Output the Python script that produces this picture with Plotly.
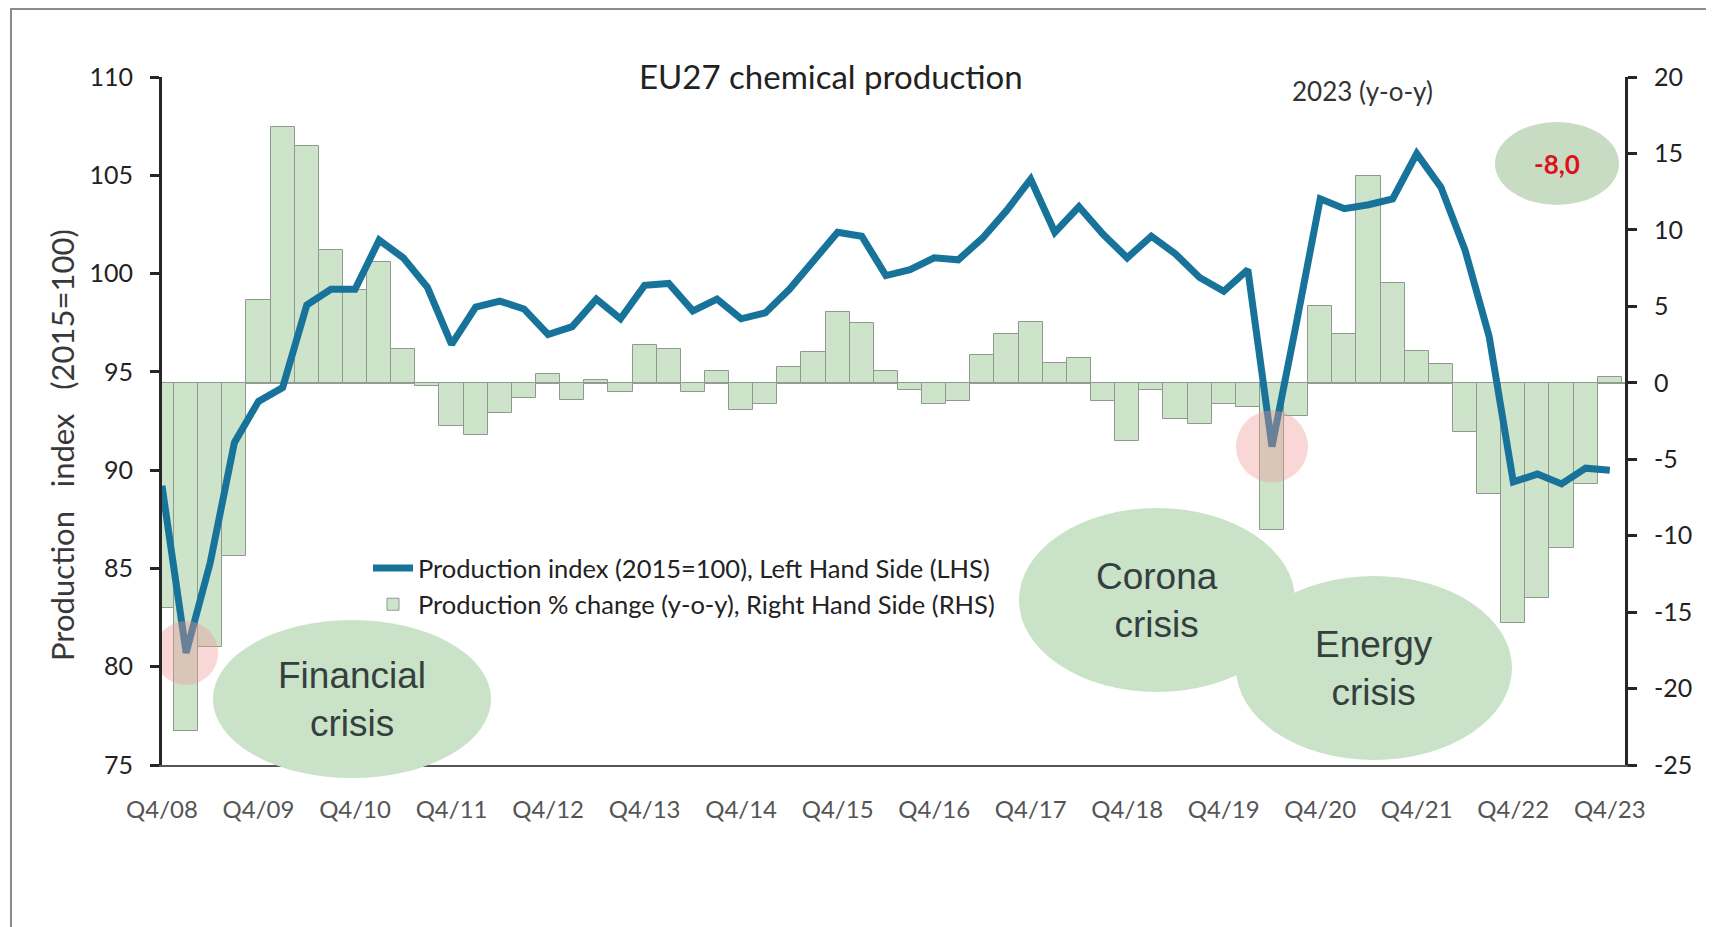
import plotly.graph_objects as go

# quarterly categories, Q4/08 ... Q4/23
years = list(range(2008, 2024))
quarters = ['Q4/08'] + [f'Q{q}/{str(y)[2:]}' for y in years[1:] for q in (1, 2, 3, 4)]
tick_labels = ['Q4/08', 'Q4/09', 'Q4/10', 'Q4/11', 'Q4/12', 'Q4/13', 'Q4/14', 'Q4/15',
               'Q4/16', 'Q4/17', 'Q4/18', 'Q4/19', 'Q4/20', 'Q4/21', 'Q4/22', 'Q4/23']

# production index (2015=100), left hand side
production_index = [89.2, 80.7, 85.3, 91.4, 93.5, 94.2, 98.4, 99.2, 99.2, 101.7,
                    100.8, 99.3, 96.4, 98.3, 98.6, 98.2, 96.9, 97.3, 98.7, 97.7,
                    99.4, 99.5, 98.1, 98.7, 97.7, 98.0, 99.2, 100.7, 102.1, 101.9,
                    99.9, 100.2, 100.8, 100.7, 101.8, 103.2, 104.8, 102.1, 103.4, 102.0,
                    100.8, 101.9, 101.0, 99.8, 99.1, 100.2, 91.2, 97.4, 103.8, 103.3,
                    103.5, 103.8, 106.1, 104.4, 101.2, 96.8, 89.4, 89.8, 89.3, 90.1,
                    90.0]

# production % change (y-o-y), right hand side
pct_change = [-14.7, -22.8, -17.3, -11.3, 5.4, 16.7, 15.5, 8.7, 6.1, 7.9,
              2.2, -0.2, -2.8, -3.4, -2.0, -1.0, 0.6, -1.1, 0.2, -0.6,
              2.5, 2.2, -0.6, 0.8, -1.8, -1.4, 1.0, 2.0, 4.6, 3.9,
              0.8, -0.5, -1.4, -1.2, 1.8, 3.2, 4.0, 1.3, 1.6, -1.2,
              -3.8, -0.5, -2.4, -2.7, -1.4, -1.6, -9.6, -2.2, 5.0, 3.2,
              13.5, 6.5, 2.1, 1.2, -3.2, -7.3, -15.7, -14.1, -10.8, -6.6,
              0.4]

# quarters highlighted with a red circle (financial crisis low, corona low)
highlight_idx = [1, 46]

left_ticks = [75, 80, 85, 90, 95, 100, 105, 110]
right_ticks = [-25, -20, -15, -10, -5, 0, 5, 10, 15, 20]

yoy_2023 = '-8,0'

# page is 1714 x 927, the figure sits 8px in (body margin)
OFF = 8
W, H = 1714 - OFF, 927 - OFF
# plot area in page pixels
PL, PR, PT, PB = 162, 1625, 77, 765


def px(x):
    return (x - PL) / (PR - PL)


def py(y):
    return (PB - y) / (PB - PT)


BLUE = '#18739b'
BAR_FILL = '#cde3ca'
BAR_LINE = '#8f9a8f'
ELLIPSE = '#c9e2c8'
AXIS = '#262626'

bars = go.Bar(x=quarters, y=pct_change, yaxis='y', width=1,
              name='Production % change (y-o-y), Right Hand Side (RHS)',
              marker=dict(color=BAR_FILL, line=dict(color=BAR_LINE, width=1)),
              legendrank=2)

line = go.Scatter(x=quarters, y=production_index, yaxis='y2', mode='lines',
                  name='Production index (2015=100), Left Hand Side (LHS)',
                  line=dict(color=BLUE, width=7), legendrank=1)

circles = go.Scatter(x=[quarters[i] for i in highlight_idx],
                     y=[production_index[i] for i in highlight_idx],
                     yaxis='y2', mode='markers', showlegend=False, hoverinfo='skip',
                     marker=dict(size=[64, 72], color='rgba(240,150,150,0.55)', line=dict(width=0)))

fig = go.Figure(data=[bars, line, circles])

axis_font = dict(family='Lato', size=25, color='#222')

fig.update_layout(
    width=W, height=H,
    margin=dict(l=PL - OFF, r=W - (PR - OFF), t=PT - OFF, b=H - (PB - OFF), pad=0),
    paper_bgcolor='white', plot_bgcolor='white',
    bargap=0,
    xaxis=dict(type='category', range=[0, 60.63], showgrid=False, zeroline=False,
               showline=True, linecolor='#555', linewidth=2, ticks='',
               tickvals=tick_labels, ticktext=tick_labels, tickangle=0,
               tickfont=dict(family='Lato', size=24, color='#555'),
               ticklabelstandoff=22),
    yaxis=dict(range=[-25, 20], side='right', tickvals=right_ticks,
               ticktext=[str(v) for v in right_ticks],
               showgrid=False, zeroline=True, zerolinecolor='#9a9a9a', zerolinewidth=1.5,
               showline=True, linecolor=AXIS, linewidth=3,
               ticks='outside', ticklen=9, tickwidth=3, tickcolor=AXIS,
               tickfont=axis_font, ticklabelstandoff=12),
    yaxis2=dict(range=[75, 110], side='left', overlaying='y', tickvals=left_ticks,
                ticktext=[str(v) for v in left_ticks],
                showgrid=False, zeroline=False,
                showline=True, linecolor=AXIS, linewidth=3,
                ticks='outside', ticklen=9, tickwidth=3, tickcolor=AXIS,
                tickfont=axis_font, ticklabelstandoff=12),
    legend=dict(x=px(368), y=py(545), xanchor='left', yanchor='top',
                bgcolor='rgba(0,0,0,0)', font=dict(family='Lato', size=25.5, color='#222'),
                itemwidth=40, tracegroupgap=0),
    showlegend=True,
)

# outer frame
fig.add_shape(type='rect', xref='paper', yref='paper', layer='above',
              x0=px(11), x1=px(W + 40), y0=py(H + 40), y1=py(9),
              line=dict(color='#8c8c8c', width=2), fillcolor='rgba(0,0,0,0)')

# crisis bubbles (center x, center y, rx, ry) in page pixels
bubbles = [(352, 699, 139, 79, 'Financial<br>crisis'),
           (1157, 600, 138, 92, 'Corona<br>crisis'),
           (1374, 668, 138, 92, 'Energy<br>crisis')]
for cx, cy, rx, ry, label in bubbles:
    fig.add_shape(type='circle', xref='paper', yref='paper', layer='above',
                  x0=px(cx - rx), x1=px(cx + rx), y0=py(cy + ry), y1=py(cy - ry),
                  fillcolor=ELLIPSE, line=dict(width=0))
for cx, cy, rx, ry, label in bubbles:
    fig.add_annotation(x=px(cx), y=py(cy), xref='paper', yref='paper', text=label,
                       showarrow=False, xanchor='center', yanchor='middle',
                       font=dict(family='Liberation Sans', size=37, color='#353f3d'))

# 2023 y-o-y bubble
fig.add_shape(type='circle', xref='paper', yref='paper', layer='above',
              x0=px(1495), x1=px(1619), y0=py(205), y1=py(122),
              fillcolor='#c8dcc4', line=dict(width=0))
fig.add_annotation(x=px(1557), y=py(164), xref='paper', yref='paper', text=f'<b>{yoy_2023}</b>',
                   showarrow=False, xanchor='center', yanchor='middle',
                   font=dict(family='Lato', size=26, color='#e0101a'))
fig.add_annotation(x=px(1362), y=py(91), xref='paper', yref='paper', text='2023 (y-o-y)',
                   showarrow=False, xanchor='center', yanchor='middle',
                   font=dict(family='Lato', size=26, color='#333'))

# title
fig.add_annotation(x=px(831), y=py(76), xref='paper', yref='paper',
                   text='EU27 chemical production', showarrow=False,
                   xanchor='center', yanchor='middle',
                   font=dict(family='Lato', size=33, color='#222'))

# left axis title (non-breaking spaces keep the wide word gaps)
gap = '\u00a0' * 3
fig.add_annotation(x=px(62), y=py(445), xref='paper', yref='paper',
                   text=f'Production{gap}index{gap}(2015=100)', textangle=-90, showarrow=False,
                   xanchor='center', yanchor='middle',
                   font=dict(family='Lato', size=31, color='#383838'))

fig.write_html('out.html')
